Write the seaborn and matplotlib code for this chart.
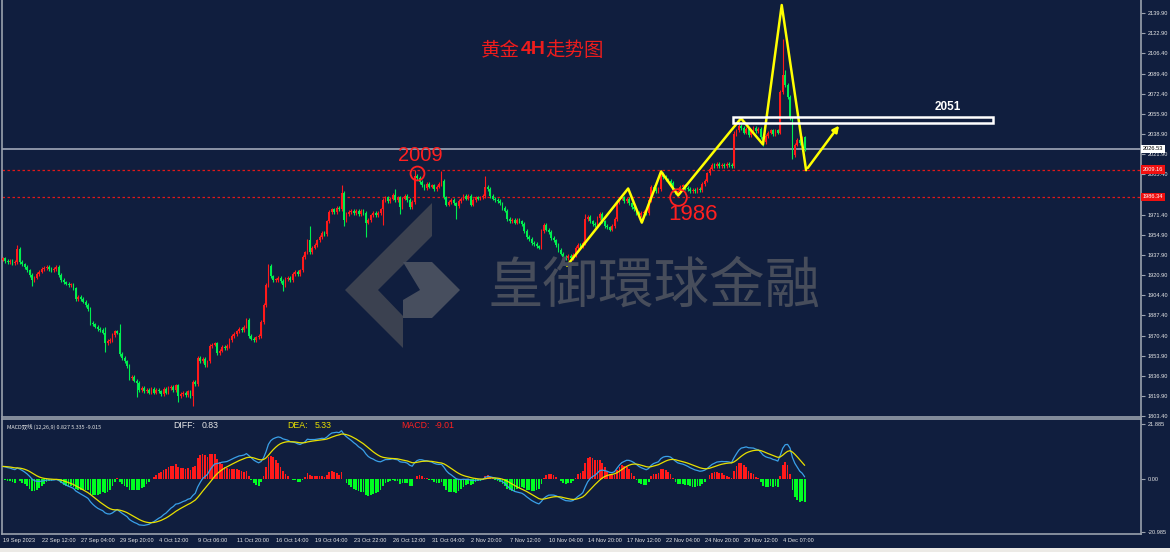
import numpy as np
import pandas as pd
import matplotlib
matplotlib.use("Agg")
import matplotlib.pyplot as plt
import seaborn as sns
from matplotlib.patches import Polygon, Rectangle

# ---------------- data ----------------
x_tick_labels = ["19 Sep 2023", "22 Sep 12:00", "27 Sep 04:00", "29 Sep 20:00", "4 Oct 12:00",
                 "9 Oct 06:00", "11 Oct 20:00", "16 Oct 14:00", "19 Oct 04:00", "23 Oct 22:00",
                 "26 Oct 12:00", "31 Oct 04:00", "2 Nov 20:00", "7 Nov 12:00", "10 Nov 04:00",
                 "14 Nov 20:00", "17 Nov 12:00", "22 Nov 04:00", "24 Nov 20:00", "29 Nov 12:00",
                 "4 Dec 07:00"]
bars_per_label = 16

price_ticks = [2139.90, 2122.90, 2106.40, 2089.40, 2072.40, 2055.90, 2038.90, 2021.90, 2005.40,
               1971.40, 1954.90, 1937.90, 1920.90, 1904.40, 1887.40, 1870.40, 1853.90, 1836.90,
               1819.90, 1803.40]
macd_ticks = [21.885, 0.0, -20.985]
macd_tick_labels = ["21.885", "0.00", "-20.985"]

open_first = 1934.0
close_prices = [
    1935, 1933, 1932, 1933, 1931, 1932, 1943, 1932, 1930, 1928, 1925, 1921, 1917, 1919, 1922, 1924,
    1926, 1927, 1928, 1926, 1925, 1926, 1928, 1921, 1917, 1915, 1914, 1913, 1913, 1910, 1901, 1903,
    1901, 1899, 1896, 1893, 1881, 1880, 1878, 1876, 1875, 1873, 1864, 1866, 1867, 1871, 1874, 1873,
    1855, 1852, 1849, 1845, 1835, 1836, 1833, 1831, 1825, 1827, 1824, 1825, 1823, 1826, 1823, 1825,
    1824, 1822, 1826, 1823, 1827, 1828, 1825, 1829, 1820, 1822, 1823, 1821, 1824, 1820, 1832, 1830,
    1852, 1849, 1851, 1846, 1849, 1862, 1863, 1864, 1856, 1858, 1861, 1860, 1862, 1867, 1870, 1872,
    1874, 1876, 1875, 1878, 1884, 1870, 1868, 1867, 1869, 1870, 1882, 1896, 1913, 1929, 1920, 1917,
    1917, 1919, 1916, 1913, 1918, 1919, 1917, 1922, 1924, 1922, 1925, 1936, 1940, 1950, 1940, 1944,
    1946, 1950, 1953, 1956, 1955, 1966, 1974, 1976, 1974, 1977, 1976, 1990, 1967, 1972, 1974, 1975,
    1973, 1975, 1972, 1975, 1973, 1965, 1967, 1971, 1973, 1971, 1973, 1976, 1984, 1986, 1983, 1985,
    1988, 1984, 1986, 1978, 1985, 1987, 1984, 1978, 1982, 2004, 2002, 1999, 1996, 1994, 1997, 1995,
    1996, 1993, 1995, 1997, 2000, 1986, 1980, 1982, 1984, 1981, 1979, 1983, 1985, 1987, 1985, 1987,
    1980, 1984, 1986, 1985, 1986, 1987, 1995, 1993, 1987, 1985, 1984, 1983, 1981, 1977, 1975, 1968,
    1966, 1967, 1965, 1967, 1966, 1964, 1958, 1953, 1951, 1948, 1947, 1945, 1944, 1958, 1963, 1959,
    1957, 1952, 1950, 1946, 1942, 1939, 1936, 1935, 1937, 1935, 1938, 1944, 1946, 1945, 1948, 1968,
    1970, 1966, 1964, 1963, 1969, 1972, 1966, 1962, 1961, 1959, 1962, 1968, 1982, 1985, 1986, 1983,
    1985, 1981, 1978, 1976, 1973, 1971, 1973, 1974, 1973, 1984, 1995, 1993, 1991, 1993, 2006, 2003,
    2001, 2000, 1998, 1992, 1990, 1991, 1995, 1996, 1994, 1993, 1991, 1992, 1991, 1993, 1992, 1997,
    2000, 2006, 2010, 2013, 2012, 2014, 2012, 2013, 2012, 2014, 2013, 2012, 2039, 2042, 2046, 2044,
    2040, 2043, 2038, 2042, 2044, 2041, 2043, 2036, 2032, 2037, 2040, 2042, 2039, 2042, 2040, 2074,
    2088, 2080, 2070, 2052, 2021, 2030, 2034, 2031, 2036, 2026.53,
]
wick_highs = {6: 1946, 42: 1878, 48: 1880, 126: 1962, 139: 1996, 161: 1993, 169: 2009,
              180: 2008, 198: 2004, 239: 1972, 270: 2009, 300: 2041, 320: 2118, 321: 2092}
wick_lows = {12: 1912, 42: 1857, 55: 1819, 72: 1815, 78: 1812, 115: 1908, 140: 1962, 149: 1953,
             156: 1963, 163: 1972, 186: 1968, 230: 1932, 312: 2029, 324: 2018}
default_wick = 1.5

macd_seed_diff = 5.0      # DIFF / DEA level at the left edge of the reference
macd_seed_dea = 5.0

level_high = 2009.16
level_low = 1986.34
last_price = 2026.53

zigzag_bars = [231.5, 256.6, 262.2, 270.1, 277.1, 302.9, 311.9, 319.6, 329.6]
zigzag_prices = [1929.0, 1993.4, 1964.9, 2007.6, 1987.6, 2052.0, 2030.2, 2146.6, 2008.7]
arrow_tip = (343.8, 2047.8)

zone_bars = (299.6, 406.3)
zone_prices = (2048.4, 2053.4)
zone_label = "2051"

mark_2009 = (169.8, 2006.0)
mark_1986 = (277.2, 1986.3)

# ---------------- derived series ----------------
n = len(close_prices)
idx = np.arange(n)
closes = np.array(close_prices, dtype=float)
opens = np.concatenate([[open_first], closes[:-1]])
highs = np.array([wick_highs.get(i, max(opens[i], closes[i]) + default_wick) for i in range(n)])
lows = np.array([wick_lows.get(i, min(opens[i], closes[i]) - default_wick) for i in range(n)])

def ema_series(values, span, seed):
    a = 2.0 / (span + 1)
    out = np.empty(len(values))
    prev = seed
    for k, v in enumerate(values):
        prev = a * v + (1 - a) * prev
        out[k] = prev
    return out

ema12 = ema_series(closes, 12, closes[0] - 5.0)
ema26 = ema_series(closes, 26, closes[0] - 5.0 - macd_seed_diff)
diff = ema12 - ema26
dea = ema_series(diff, 9, macd_seed_dea)
hist = 2 * (diff - dea)
df = pd.DataFrame({"bar": idx, "open": opens, "close": closes, "high": highs, "low": lows,
                   "diff": diff, "dea": dea, "hist": hist})

# ---------------- style ----------------
BG = "#101e3e"
RED = "#ff1a1a"
GREEN = "#00ee50"
GRID = "#9aa1ad"
TXT = "#e6e6e6"
sns.set_theme(style="dark", rc={"axes.facecolor": BG, "figure.facecolor": BG})
plt.rcParams["font.family"] = ["DejaVu Sans", "Noto Sans CJK SC"]
SMALL = ["Liberation Sans", "DejaVu Sans"]
TICK_FS = 4.1

W, H = 1170, 552
fig = plt.figure(figsize=(W / 100, H / 100), dpi=100)

def fbox(x0, y0, x1, y1):
    return [x0 / W, 1 - y1 / H, (x1 - x0) / W, (y1 - y0) / H]

ax = fig.add_axes(fbox(2, 0, 1141, 417))
ax2 = fig.add_axes(fbox(2, 419, 1141, 534), sharex=ax)
for a in (ax, ax2):
    a.set_facecolor(BG)
    for s in a.spines.values():
        s.set_color(GRID)
        s.set_linewidth(1.2)
    a.grid(False)
ax.spines["top"].set_visible(False)

xlim = (-0.29, 467.0)
ax.set_xlim(*xlim)
ax.set_ylim(1802.6, 2150.8)
ax2.set_ylim(-21.9, 23.9)

# watermark (decorative)
def P(x, y):
    return (x / W, 1 - y / H)
logo_dark = [P(345, 290), P(432, 203), P(432, 236), P(378, 290), P(403, 316), P(403, 348)]
logo_light = [P(403, 262), P(432, 262), P(460, 290), P(432, 318), P(403, 318), P(403, 300),
              P(420, 290)]
fig.patches.append(Polygon(logo_dark, closed=True, transform=fig.transFigure,
                           facecolor="#3b4150", edgecolor="none", zorder=0.5))
fig.patches.append(Polygon(logo_light, closed=True, transform=fig.transFigure,
                           facecolor="#474e5e", edgecolor="none", zorder=0.5))
fig.text(654 / W, 1 - 287 / H, "皇御環球金融", fontsize=40, color="#474d5b",
         family=["Noto Sans CJK TC"], ha="center", va="center", zorder=0.5)

# horizontal levels
ax.axhline(level_high, color="#e01818", lw=0.9, ls=(0, (2, 2)), zorder=1)
ax.axhline(level_low, color="#e01818", lw=0.9, ls=(0, (2, 2)), zorder=1)
ax.axhline(last_price, color="#8c94a6", lw=1.4, zorder=1)

# candles
up = df["close"] >= df["open"]
colors = np.where(up, RED, GREEN)
ax.vlines(df["bar"], df["low"], df["high"], colors=colors, lw=0.8, zorder=3)
body_h = np.maximum((df["close"] - df["open"]).abs(), 0.5)
body_b = np.minimum(df["open"], df["close"])
ax.bar(df["bar"], body_h, bottom=body_b, width=0.72, color=colors, linewidth=0, zorder=3)

# zigzag + arrow
sns.lineplot(x=zigzag_bars, y=zigzag_prices, sort=False, ax=ax, color="#ffff00", lw=1.8,
             zorder=5, estimator=None)
ax.annotate("", xy=arrow_tip, xytext=(zigzag_bars[-1], zigzag_prices[-1]),
            arrowprops=dict(arrowstyle="-|>", color="#ffff00", lw=1.8, mutation_scale=9),
            zorder=5)

# zone rectangle
ax.add_patch(Rectangle((zone_bars[0], zone_prices[0]), zone_bars[1] - zone_bars[0],
                       zone_prices[1] - zone_prices[0], fill=False, ec="white", lw=1.8, zorder=6))
ax.text(387.6, 2061.2, zone_label, color="white", fontsize=8.5, fontweight="bold",
        family=["Liberation Sans"], ha="center", va="center", zorder=6)

# marks
ax.plot(*mark_2009, marker="o", ms=10, mfc="none", mec="#ff2020", mew=1.3, zorder=6)
ax.plot(*mark_1986, marker="o", ms=12, mfc="none", mec="#ff2020", mew=1.3, zorder=6)
ax.text(171.2, 2021.0, "2009", color="#ff2020", fontsize=14.5, family=["Liberation Sans"],
        ha="center", va="center", zorder=6)
ax.text(283.4, 1971.6, "1986", color="#ff2020", fontsize=16, family=["Liberation Sans"],
        ha="center", va="center", zorder=6)

# title
fig.text(481 / W, 1 - 50 / H, "黄金", color="#ee1c1c", fontsize=14, family=["Noto Sans CJK SC"],
         ha="left", va="center")
fig.text(521 / W, 1 - 50 / H, "4H", color="#ee1c1c", fontsize=14, fontweight="bold",
         family=["Liberation Sans"], ha="left", va="center")
fig.text(545 / W, 1 - 50 / H, "走势图", color="#ee1c1c", fontsize=14, family=["Noto Sans CJK SC"],
         ha="left", va="center")

# price axis
ax.yaxis.tick_right()
ax.set_yticks(price_ticks)
ax.set_yticklabels([f"{v:.2f}" for v in price_ticks])
ax.tick_params(axis="y", colors=GRID, length=3, width=0.8, pad=1.5, labelsize=TICK_FS,
               labelcolor=TXT)
for t in ax.get_yticklabels():
    t.set_family(SMALL)
ax.tick_params(axis="x", length=0, labelbottom=False)

def price_tag(y, text, fc, tc):
    ax.text(1.0018, y, text, transform=ax.get_yaxis_transform(), fontsize=TICK_FS, color=tc,
            family=SMALL, ha="left", va="center", zorder=10, clip_on=False,
            bbox=dict(boxstyle="square,pad=0.3", fc=fc, ec="none"))

price_tag(last_price, f"{last_price:.2f}", "white", "black")
price_tag(level_high, f"{level_high:.2f}", "#f01010", "white")
price_tag(level_low, f"{level_low:.2f}", "#f01010", "white")

# MACD panel
pos = df["hist"] >= 0
ax2.bar(df["bar"], df["hist"], width=0.72, color=np.where(pos, "#ff1a1a", "#00ff22"),
        linewidth=0, zorder=2)
sns.lineplot(data=df, x="bar", y="diff", ax=ax2, color="#3aa0e8", lw=0.9, zorder=3)
sns.lineplot(data=df, x="bar", y="dea", ax=ax2, color="#e8e000", lw=0.9, zorder=3)
ax2.set_xlabel("")
ax2.set_ylabel("")
ax2.yaxis.tick_right()
ax2.set_yticks(macd_ticks)
ax2.set_yticklabels(macd_tick_labels)
ax2.tick_params(axis="y", colors=GRID, length=3, width=0.8, pad=1.5, labelsize=TICK_FS,
                labelcolor=TXT)
for t in ax2.get_yticklabels():
    t.set_family(SMALL)
xt = np.arange(len(x_tick_labels)) * bars_per_label
ax2.set_xticks(xt)
ax2.set_xticklabels(x_tick_labels)
ax2.tick_params(axis="x", colors=GRID, length=4, width=0.8, pad=-1.0, labelsize=TICK_FS,
                labelcolor=TXT, direction="out")
for t in ax2.get_xticklabels():
    t.set_family(SMALL)
    t.set_ha("left")
ax.set_xlim(*xlim)

ax2.text(5 / 1139, 0.93, "MACD双线 (12,26,9) 0.827 5.335 -9.015", transform=ax2.transAxes,
         fontsize=3.9, color=TXT, ha="left", va="center", family=["Noto Sans CJK SC"])
for xp, s, c in [(173, "DIFF:", "#e6e6e6"), (202, "0.83", "#e6e6e6"),
                 (287, "DEA:", "#e8e000"), (315, "5.33", "#e8e000"),
                 (401, "MACD:", "#ff2020"), (435, "-9.01", "#ff2020")]:
    fig.text(xp / W, 1 - 425 / H, s, color=c, fontsize=6.3, family=["Liberation Sans"],
             ha="left", va="center")

# bottom tab strip
fig.patches.append(Rectangle((0, 0), 1, 4 / H, transform=fig.transFigure, fc="#eceae6",
                             ec="none"))

fig.savefig("out.png", dpi=100, facecolor=BG)
